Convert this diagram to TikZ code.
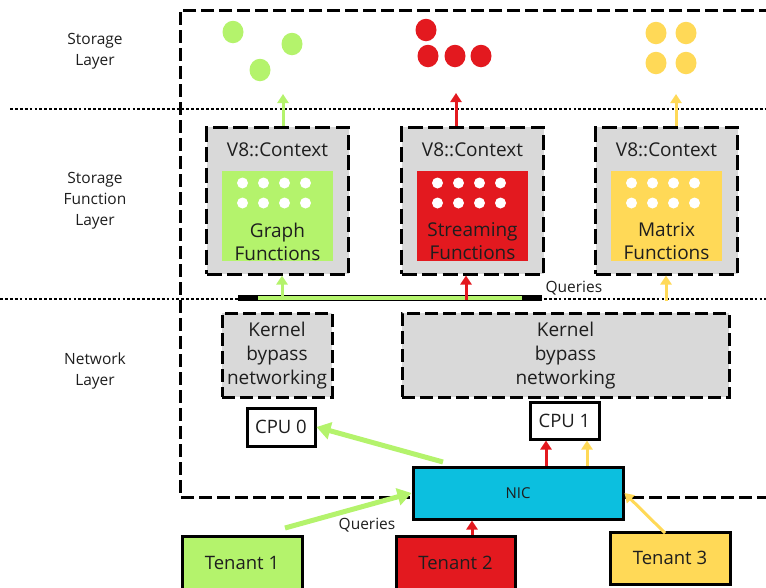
\documentclass[tikz,border=0pt]{standalone}
\usepackage{fontspec}
\setmainfont{Open Sans}
\usetikzlibrary{arrows.meta,shapes.geometric}
\definecolor{limeg}{HTML}{B4F36C}
\definecolor{redc}{HTML}{E3191F}
\definecolor{yelc}{HTML}{FFD957}
\definecolor{nicc}{HTML}{0CBFDF}
\definecolor{boxg}{HTML}{D9D9D9}
\definecolor{ink}{HTML}{1E1E1E}
\begin{document}
\begin{tikzpicture}[x=1pt,y=-1pt,
  font=\color{ink},
  frame/.style={line width=3pt, dash pattern=on 13pt off 5pt},
  boxframe/.style={line width=3pt, dash pattern=on 15pt off 5.5pt},
  dotline/.style={line width=2.8pt, dash pattern=on 2.8pt off 2.1pt},
  fnbox/.style={draw=black, boxframe, fill=boxg, minimum width=142, minimum height=147, inner sep=0pt},
  kbox/.style={draw=black, frame, fill=boxg, minimum height=84, inner sep=0pt},
  inner/.style={minimum width=111, minimum height=90, inner sep=0pt},
  solidbox/.style={draw=black, line width=3pt, inner sep=0pt},
  sdot/.style={ellipse, minimum width=21, minimum height=22.5, inner sep=0pt},
  wdot/.style={circle, fill=white, minimum size=11, inner sep=0pt},
  layertxt/.style={align=center, font=\fontsize{15.5}{21}\selectfont\color{ink}},
  ctxtxt/.style={font=\fontsize{19}{22}\selectfont\color{ink}},
  fntxt/.style={align=center, font=\fontsize{19}{23}\selectfont\color{ink}},
  ktxt/.style={align=center, font=\fontsize{19}{24}\selectfont\color{ink}},
  boxtxt/.style={font=\fontsize{18.5}{21}\selectfont\color{ink}},
  smalltxt/.style={font=\fontsize{15.5}{18}\selectfont\color{ink}},
  sarrow/.style={line width=3pt, -{Triangle[width=11pt,length=9pt]}},
  garrow/.style={line width=5pt, -{Triangle[width=17pt,length=14pt]}},
]
\useasboundingbox (0,0) rectangle (766,587);

% host frame and layer separators
\draw[frame] (790,10) -- (180,10) -- (180,497) -- (790,497);
\draw[dotline] (10,109) -- (766,109);
\draw[dotline] (0,299) -- (766,299);

% layer captions
\node[layertxt] (capS) at (95,51) {Storage\\Layer};
\node[layertxt] (capF) at (95,201) {Storage\\Function\\Layer};
\node[layertxt] (capN) at (95,371) {Network\\Layer};

% stored data
\node[sdot, fill=limeg] (g1) at (233,32) {};
\node[sdot, fill=limeg] (g2) at (292,44) {};
\node[sdot, fill=limeg] (g3) at (260,70) {};
\node[sdot, fill=redc] (r1) at (426,30) {};
\node[sdot, fill=redc] (r2) at (428,56) {};
\node[sdot, fill=redc] (r3) at (455,56) {};
\node[sdot, fill=redc] (r4) at (481,56) {};
\node[sdot, fill=yelc] (y1) at (656,33) {};
\node[sdot, fill=yelc] (y2) at (686,33) {};
\node[sdot, fill=yelc] (y3) at (656,63) {};
\node[sdot, fill=yelc] (y4) at (686,63) {};

% storage function contexts
\foreach \cx/\n/\c/\t in {277.5/graph/limeg/Graph, 472.5/stream/redc/Streaming, 666.5/matrix/yelc/Matrix} {
  \node[fnbox] (\n) at (\cx,200.5) {};
  \node[ctxtxt] (\n-ctx) at (\cx,150) {V8::Context};
  \node[inner, fill=\c] (\n-in) at (\cx,216) {};
  \foreach \i in {0,...,3} {
    \foreach \j in {0,1} {
      \node[wdot] (\n-d\i\j) at (\cx-35+21*\i, 183+20*\j) {};
    }
  }
  \node[fntxt] (\n-txt) at (\cx,241.5) {\t\\Functions};
}

% results written to storage
\coordinate (sg) at (283,94);
\coordinate (sr) at (456,93);
\coordinate (sy) at (676,94);
\draw[sarrow, limeg] (graph.north -| sg) -- (sg);
\draw[sarrow, redc] (stream.north -| sr) -- (sr);
\draw[sarrow, yelc] (matrix.north -| sy) -- (sy);

% query bus
\coordinate (qa) at (238,298);
\coordinate (qb) at (542,298);
\coordinate (qc) at (258,298);
\coordinate (qd) at (522,298);
\draw[line width=6pt, black] (qa) -- (qb);
\draw[line width=3.5pt, limeg] (qc) -- (qd);
\node[smalltxt, anchor=west] (qlabel) at (542,288) {Queries};

\coordinate (qg) at (282,300);
\coordinate (qr) at (466,300);
\coordinate (qy) at (666,301);
\draw[sarrow, limeg] (qg) -- (qg |- graph.south);
\draw[sarrow, redc] (qr) -- (qr |- stream.south);
\draw[sarrow, yelc] (qy) -- (qy |- matrix.south);

% network layer
\node[kbox, minimum width=110] (k0) at (277,355) {};
\node[ktxt] (k0t) at (277,356) {Kernel\\bypass\\networking};
\node[kbox, minimum width=327] (k1) at (565.5,355) {};
\node[ktxt] (k1t) at (565.5,356) {Kernel\\bypass\\networking};

\node[solidbox, fill=white, minimum width=68, minimum height=38, boxtxt] (cpu0) at (281,427) {CPU 0};
\node[solidbox, fill=white, minimum width=69, minimum height=37, boxtxt] (cpu1) at (564.5,420.5) {CPU 1};

\node[solidbox, fill=nicc, minimum width=210, minimum height=52, font=\fontsize{15}{18}\selectfont\color{ink}] (nic) at (518,493) {NIC};

% tenants
\node[solidbox, fill=limeg, minimum width=120, minimum height=53, boxtxt] (t1) at (242,562.5) {Tenant 1};
\node[solidbox, fill=redc, minimum width=119, minimum height=53, boxtxt] (t2) at (455.5,562.5) {Tenant 2};
\node[solidbox, fill=yelc, minimum width=120, minimum height=52, boxtxt] (t3) at (670,558) {Tenant 3};

% traffic
\coordinate (n0) at (443,462);
\draw[garrow, limeg] (n0) -- (cpu0.east);
\coordinate (c1r) at (546,0);
\coordinate (c1y) at (587,0);
\draw[sarrow, redc] (nic.north -| c1r) -- (cpu1.south -| c1r);
\draw[sarrow, yelc] (nic.north -| c1y) -- (cpu1.south -| c1y);

\coordinate (t1s) at (285,528);
\draw[garrow, limeg] (t1s) -- (nic.west);
\node[smalltxt] (tq) at (367,525) {Queries};
\coordinate (t2x) at (472,0);
\draw[sarrow, redc] (t2.north -| t2x) -- (nic.south -| t2x);
\coordinate (t3s) at (665,533);
\draw[sarrow, yelc] (t3s) -- (nic.east);
\end{tikzpicture}
\end{document}
